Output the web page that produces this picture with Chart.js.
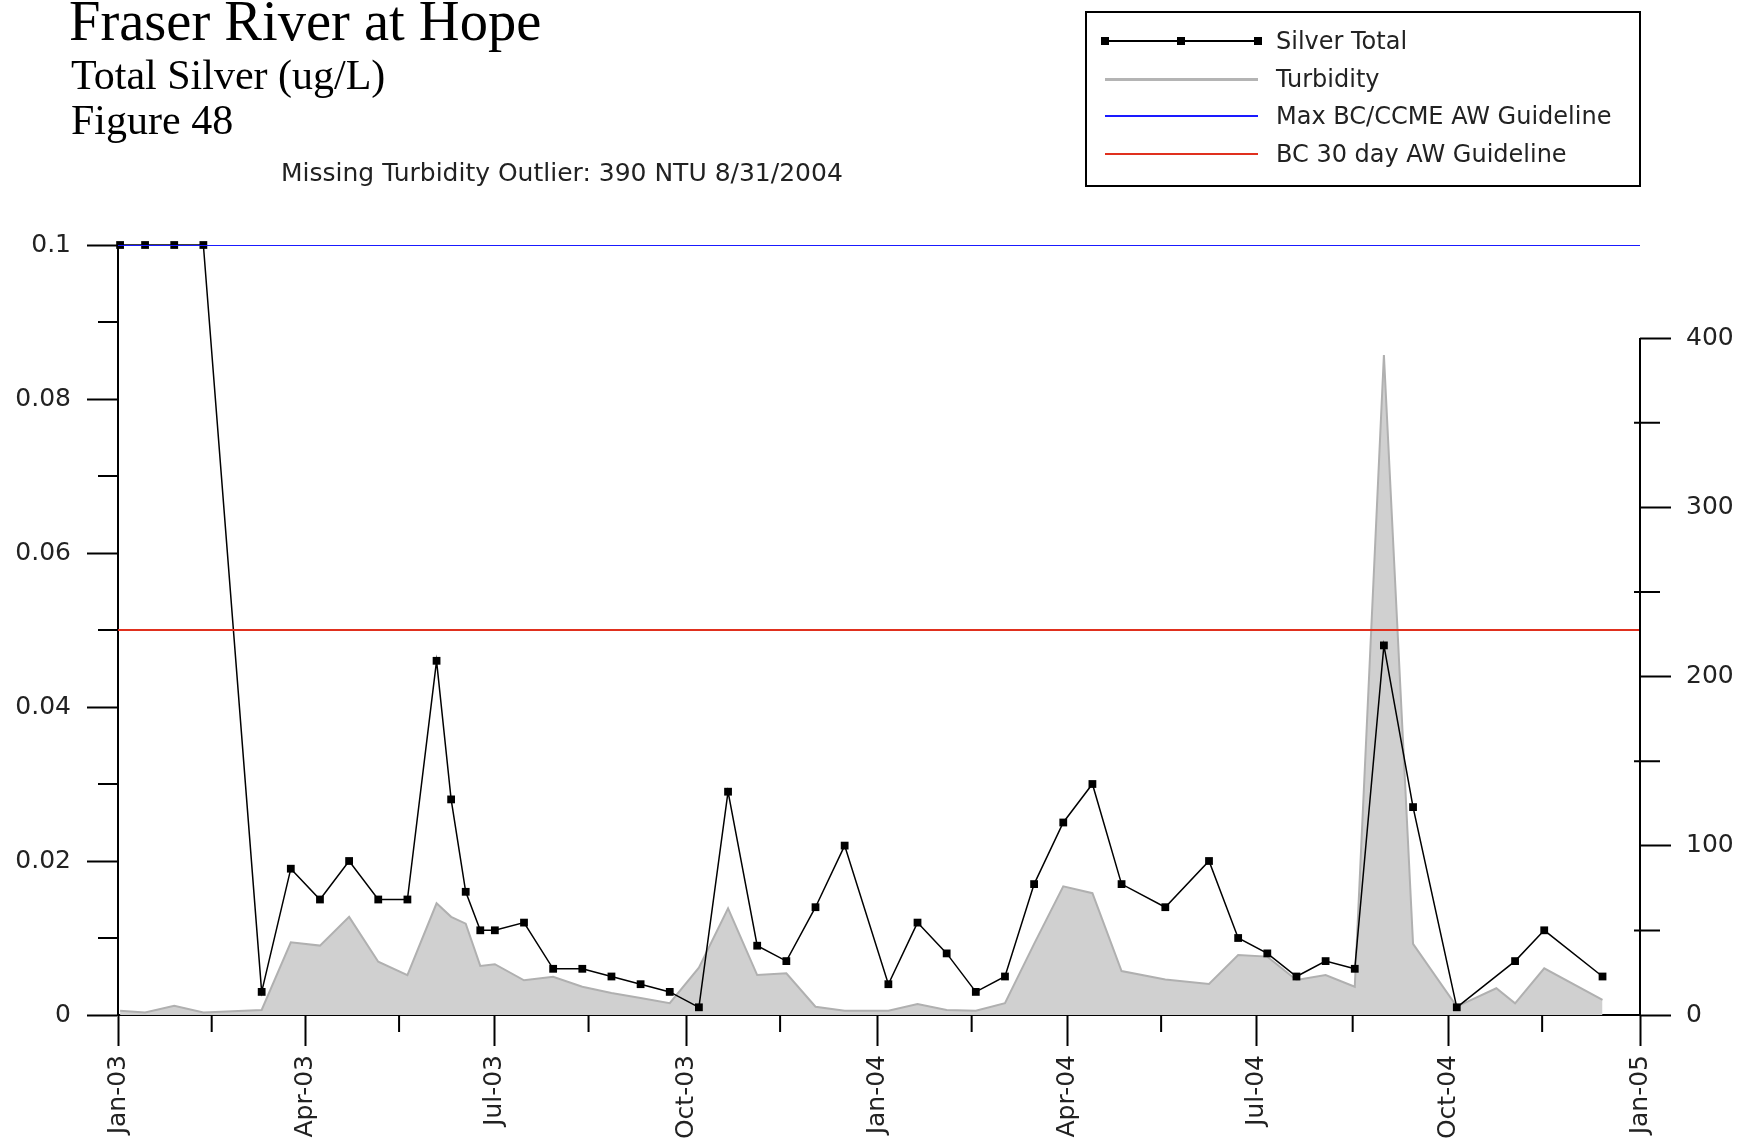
<!DOCTYPE html>
<html>
<head>
<meta charset="utf-8">
<title>Fraser River at Hope - Total Silver</title>
<script src="https://cdn.jsdelivr.net/npm/chart.js@4.4.1/dist/chart.umd.min.js"></script>
<style>
  body { margin: 0; background: #fff; }
  #page { position: relative; width: 1751px; height: 1139px; overflow: hidden; background: #fff; }
  #chart { position: absolute; left: 0; top: 0; }
  .serif { position: absolute; font-family: "Liberation Serif", "Times New Roman", serif; color: #000; white-space: nowrap; }
  .sans { position: absolute; font-family: "DejaVu Sans", sans-serif; color: #222; white-space: nowrap; }
  #title { left: 69px; top: -7px; font-size: 56.5px; line-height: 56.5px; }
  #sub1 { left: 71px; top: 54px; font-size: 42px; line-height: 42px; }
  #sub2 { left: 71px; top: 99px; font-size: 42px; line-height: 42px; }
  #note { left: 281px; top: 160px; font-size: 25px; line-height: 25px; }
  #legend { position: absolute; left: 1085px; top: 11px; width: 556px; height: 176px; border: 2px solid #000; box-sizing: border-box; }
  .row { position: absolute; left: 0; width: 550px; height: 24px; }
  .swatch { position: absolute; left: 18px; width: 153px; top: 11px; height: 2px; }
  .mark { position: absolute; top: 8px; width: 8px; height: 8px; background: #000; }
  .label { position: absolute; left: 189px; top: 0; font-size: 24px; line-height: 24px; }
</style>
</head>
<body>
<div id="page">
  <canvas id="chart" width="1751" height="1139"></canvas>

  <div id="title" class="serif">Fraser River at Hope</div>
  <div id="sub1" class="serif">Total Silver (ug/L)</div>
  <div id="sub2" class="serif">Figure 48</div>
  <div id="note" class="sans">Missing Turbidity Outlier: 390 NTU 8/31/2004</div>

  <div id="legend">
    <div class="row" style="top:16px">
      <div class="swatch" style="background:#000"></div>
      <div class="mark" style="left:14px"></div>
      <div class="mark" style="left:90px"></div>
      <div class="mark" style="left:167px"></div>
      <div class="label sans">Silver Total</div>
    </div>
    <div class="row" style="top:54px">
      <div class="swatch" style="background:#b4b4b4; height:3px"></div>
      <div class="label sans">Turbidity</div>
    </div>
    <div class="row" style="top:91px">
      <div class="swatch" style="background:#1a1aff"></div>
      <div class="label sans">Max BC/CCME AW Guideline</div>
    </div>
    <div class="row" style="top:129px">
      <div class="swatch" style="background:#e0301e"></div>
      <div class="label sans">BC 30 day AW Guideline</div>
    </div>
  </div>
</div>

<script>
// ----------------------------
// Data
// ----------------------------
const silverDates = [
  "2003-01-02", "2003-01-14", "2003-01-28", "2003-02-11", "2003-03-11", "2003-03-25",
  "2003-04-08", "2003-04-22", "2003-05-06", "2003-05-20", "2003-06-03", "2003-06-10",
  "2003-06-17", "2003-06-24", "2003-07-01", "2003-07-15", "2003-07-29", "2003-08-12",
  "2003-08-26", "2003-09-09", "2003-09-23", "2003-10-07", "2003-10-21", "2003-11-04",
  "2003-11-18", "2003-12-02", "2003-12-16",
  "2004-01-06", "2004-01-20", "2004-02-03", "2004-02-17", "2004-03-02", "2004-03-16",
  "2004-03-30", "2004-04-13", "2004-04-27", "2004-05-18", "2004-06-08", "2004-06-22",
  "2004-07-06", "2004-07-20", "2004-08-03", "2004-08-17", "2004-08-31", "2004-09-14",
  "2004-10-05", "2004-11-02", "2004-11-16", "2004-12-14"
];
const silverTotal = [
  0.1, 0.1, 0.1, 0.1, 0.003, 0.019,
  0.015, 0.020, 0.015, 0.015, 0.046, 0.028,
  0.016, 0.011, 0.011, 0.012, 0.006, 0.006,
  0.005, 0.004, 0.003, 0.001, 0.029, 0.009,
  0.007, 0.014, 0.022,
  0.004, 0.012, 0.008, 0.003, 0.005, 0.017,
  0.025, 0.030, 0.017, 0.014, 0.020, 0.010,
  0.008, 0.005, 0.007, 0.006, 0.048, 0.027,
  0.001, 0.007, 0.011, 0.005
];

const turbidityDates = [
  "2003-01-02", "2003-01-14", "2003-01-28", "2003-02-11", "2003-03-11", "2003-03-25",
  "2003-04-08", "2003-04-22", "2003-05-06", "2003-05-20", "2003-06-03", "2003-06-10",
  "2003-06-17", "2003-06-24", "2003-07-01", "2003-07-15", "2003-07-29", "2003-08-12",
  "2003-08-26", "2003-09-09", "2003-09-23", "2003-10-07", "2003-10-21", "2003-11-04",
  "2003-11-18", "2003-12-02", "2003-12-16",
  "2004-01-06", "2004-01-20", "2004-02-03", "2004-02-17", "2004-03-02", "2004-03-16",
  "2004-03-30", "2004-04-13", "2004-04-27", "2004-05-18", "2004-06-08", "2004-06-22",
  "2004-07-06", "2004-07-20", "2004-08-03", "2004-08-17", "2004-08-31", "2004-09-14",
  "2004-10-05", "2004-10-24", "2004-11-02", "2004-11-16", "2004-12-14"
];
const turbidity = [
  2.5, 1.5, 5.5, 1.5, 3, 43,
  41, 58, 31.5, 23.6, 66, 58,
  54, 29, 30, 20.5, 22.6, 16.7,
  13, 10, 7, 28, 63, 23.6,
  24.6, 4.9, 2.5,
  2.5, 6.5, 3, 2.5, 7, 42,
  76, 72, 26, 21, 18.3, 35.5,
  34.5, 20.7, 23.6, 16.7, 390, 42,
  5, 15.8, 6.9, 27.6, 8.9
];

const maxGuideline = 0.1;   // Max BC/CCME AW
const bc30Guideline = 0.05; // BC 30 day AW

const axisStart = "2003-01-01";
const axisEnd = "2005-01-01";
const quarterDates = ["2003-01-01", "2003-04-01", "2003-07-01", "2003-10-01", "2004-01-01",
                      "2004-04-01", "2004-07-01", "2004-10-01", "2005-01-01"];
const quarterLabels = ["Jan-03", "Apr-03", "Jul-03", "Oct-03", "Jan-04",
                       "Apr-04", "Jul-04", "Oct-04", "Jan-05"];
const minorDates = ["2003-02-15", "2003-05-16", "2003-08-15", "2003-11-15",
                    "2004-02-15", "2004-05-16", "2004-08-16", "2004-11-15"];

const silverTicks = [0, 0.02, 0.04, 0.06, 0.08, 0.1];
const silverMinorTicks = [0.01, 0.03, 0.05, 0.07, 0.09];
const turbidityTicks = [0, 100, 200, 300, 400];
const turbidityMinorTicks = [50, 150, 250, 350];
const turbidityMax = 455;

// ----------------------------
// Helpers
// ----------------------------
const DAY0 = Date.UTC(2003, 0, 1);
function dayOf(s) {
  const [y, m, d] = s.split("-").map(Number);
  return (Date.UTC(y, m - 1, d) - DAY0) / 86400000;
}
function pairs(dates, values) {
  return dates.map((d, i) => ({ x: dayOf(d), y: values[i] }));
}
function flatLine(v) {
  return [{ x: dayOf(axisStart), y: v }, { x: dayOf(axisEnd), y: v }];
}

const tickFont = { family: "DejaVu Sans", size: 25 };
const tickColor = "#222";

// minor ticks + the right axis line (which stops at 400)
const axisExtras = {
  id: "axisExtras",
  afterDraw(chart) {
    const { ctx, chartArea, scales } = chart;
    ctx.save();
    ctx.strokeStyle = "#000";
    ctx.lineWidth = 2;
    ctx.beginPath();

    const yr = scales.y2;
    ctx.moveTo(chartArea.right, yr.getPixelForValue(0) + 1);
    ctx.lineTo(chartArea.right, yr.getPixelForValue(turbidityTicks[turbidityTicks.length - 1]));

    minorDates.forEach(d => {
      const x = scales.x.getPixelForValue(dayOf(d));
      ctx.moveTo(x, chartArea.bottom);
      ctx.lineTo(x, chartArea.bottom + 17);
    });
    silverMinorTicks.forEach(v => {
      const y = scales.y.getPixelForValue(v);
      ctx.moveTo(chartArea.left - 20, y);
      ctx.lineTo(chartArea.left, y);
    });
    turbidityMinorTicks.forEach(v => {
      const y = yr.getPixelForValue(v);
      ctx.moveTo(chartArea.right - 6, y);
      ctx.lineTo(chartArea.right + 20, y);
    });
    ctx.stroke();
    ctx.restore();
  }
};

// ----------------------------
// Chart
// ----------------------------
Chart.defaults.font.family = "DejaVu Sans";

new Chart(document.getElementById("chart").getContext("2d"), {
  type: "line",
  data: {
    datasets: [
      {
        label: "Max BC/CCME AW Guideline",
        data: flatLine(maxGuideline),
        yAxisID: "y",
        borderColor: "#1a1aff",
        borderWidth: 2,
        pointRadius: 0,
        order: 0
      },
      {
        label: "BC 30 day AW Guideline",
        data: flatLine(bc30Guideline),
        yAxisID: "y",
        borderColor: "#e0301e",
        borderWidth: 2,
        pointRadius: 0,
        order: 0
      },
      {
        label: "Silver Total",
        data: pairs(silverDates, silverTotal),
        yAxisID: "y",
        borderColor: "#000",
        borderWidth: 1.5,
        pointStyle: "rect",
        pointRadius: 5.5,
        pointBackgroundColor: "#000",
        pointBorderColor: "#000",
        pointBorderWidth: 0,
        clip: false,
        order: 1
      },
      {
        label: "Turbidity",
        data: pairs(turbidityDates, turbidity),
        yAxisID: "y2",
        borderColor: "#b0b0b0",
        borderWidth: 2,
        backgroundColor: "#d0d0d0",
        fill: "origin",
        pointRadius: 0,
        order: 2
      }
    ]
  },
  options: {
    responsive: false,
    animation: false,
    layout: { padding: { top: 245, left: 0, right: 0, bottom: 0 } },
    plugins: {
      legend: { display: false },
      tooltip: { enabled: false },
      title: { display: false }
    },
    scales: {
      x: {
        type: "linear",
        min: dayOf(axisStart),
        max: dayOf(axisEnd),
        afterBuildTicks: s => { s.ticks = quarterDates.map(d => ({ value: dayOf(d) })); },
        afterFit: s => { s.height = 1139 - 1015; },
        ticks: {
          autoSkip: false,
          minRotation: 90,
          maxRotation: 90,
          padding: 9,
          font: tickFont,
          color: tickColor,
          callback: (v, i) => quarterLabels[i]
        },
        grid: { drawOnChartArea: false, tickLength: 31, tickWidth: 2, color: "#000", tickColor: "#000" },
        border: { color: "#000", width: 2 }
      },
      y: {
        position: "left",
        min: 0,
        max: 0.1,
        afterBuildTicks: s => { s.ticks = silverTicks.map(v => ({ value: v })); },
        afterFit: s => { s.width = 118; },
        ticks: {
          padding: 16,
          font: tickFont,
          color: tickColor,
          callback: v => String(Math.round(v * 100) / 100)
        },
        grid: { drawOnChartArea: false, tickLength: 31, tickWidth: 2, color: "#000", tickColor: "#000" },
        border: { color: "#000", width: 2 }
      },
      y2: {
        position: "right",
        min: 0,
        max: turbidityMax,
        afterBuildTicks: s => { s.ticks = turbidityTicks.map(v => ({ value: v })); },
        afterFit: s => { s.width = 1751 - 1640; },
        ticks: {
          padding: 15,
          font: tickFont,
          color: tickColor,
          callback: v => String(v)
        },
        grid: { drawOnChartArea: false, tickLength: 31, tickWidth: 2, color: "#000", tickColor: "#000" },
        border: { display: false }
      }
    }
  },
  plugins: [axisExtras]
});
</script>
</body>
</html>
